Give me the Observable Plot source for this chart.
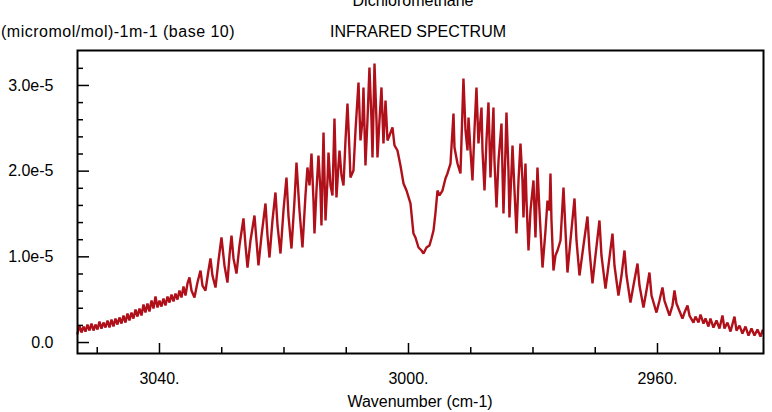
<!DOCTYPE html>
<html>
<head>
<meta charset="utf-8">
<script src="https://cdn.jsdelivr.net/npm/d3@7"></script>
<script src="https://cdn.jsdelivr.net/npm/@observablehq/plot@0.6"></script>
<style>
  html, body { margin: 0; padding: 0; background: #fff; overflow: hidden; }
  #chart { position: relative; width: 772px; height: 412px; overflow: hidden;
           font-family: "Liberation Sans", Arial, sans-serif; color: #000; }
  #chart .t { position: absolute; font-size: 16px; line-height: 16px; white-space: nowrap; }
  #chart svg { position: absolute; left: 0; top: 0; }
</style>
</head>
<body>
<div id="chart"></div>
<script>
// Text
const titleText = "Dichloromethane";
const unitsText = "(micromol/mol)-1m-1 (base 10)";
const subtitleText = "INFRARED SPECTRUM";
const xLabelText = "Wavenumber (cm-1)";

// Axis ticks
const xMajor = [3040, 3000, 2960];
const xMinor = [3050, 3030, 3020, 3010, 2990, 2980, 2970, 2950];
const yMajor = [0, 1, 2, 3];                       // ×1e-5
const yMinor = [0.2, 0.4, 0.6, 0.8, 1.2, 1.4, 1.6, 1.8, 2.2, 2.4, 2.6, 2.8, 3.2];

// Spectrum: wavenumber (cm-1) and absorption coefficient (×1e-5)
const wavenumber = [
  3053.17,3052.85,3052.53,3052.21,3051.89,3051.57,3051.24,3050.92,3050.60,3050.28,
  3049.96,3049.64,3049.32,3049.00,3048.67,3048.35,3048.03,3047.71,3047.39,3047.07,
  3046.75,3046.43,3046.10,3045.78,3045.46,3045.14,3044.82,3044.50,3044.18,3043.85,
  3043.53,3043.21,3042.89,3042.57,3042.25,3041.93,3041.61,3041.28,3040.96,3040.64,
  3040.32,3040.00,3039.68,3039.36,3039.04,3038.71,3038.39,3038.07,3037.75,3037.43,
  3037.11,3036.79,3036.47,3036.14,3035.82,3035.50,3035.18,3034.86,3034.38,3033.90,
  3033.41,3033.09,3032.61,3032.13,3031.81,3031.49,3031.00,3030.52,3030.04,3029.56,
  3029.08,3028.75,3028.43,3028.11,3027.63,3027.15,3026.51,3026.18,3025.86,3025.38,
  3024.74,3024.42,3024.10,3023.61,3022.97,3022.65,3022.33,3021.85,3021.37,3021.04,
  3020.56,3020.08,3019.60,3019.28,3018.80,3018.31,3017.99,3017.51,3017.03,3016.55,
  3016.23,3015.90,3015.58,3015.26,3015.10,3014.78,3014.46,3014.14,3013.98,3013.65,
  3013.33,3013.01,3012.85,3012.53,3012.21,3011.89,3011.57,3011.25,3011.08,3010.76,
  3010.44,3010.12,3009.80,3009.48,3009.32,3008.84,3008.51,3008.03,3007.71,3007.39,
  3007.23,3006.91,3006.59,3006.27,3005.94,3005.78,3005.46,3005.14,3004.98,3004.66,
  3004.34,3004.02,3003.69,3003.37,3003.05,3002.57,3002.25,3001.77,3001.29,3000.80,
  3000.32,2999.68,2999.20,2998.88,2998.39,2997.91,2997.59,2997.11,2996.63,2996.31,
  2995.98,2995.66,2995.34,2995.02,2994.54,2994.06,2993.74,2993.25,2992.77,2992.61,
  2992.13,2991.65,2991.17,2990.84,2990.52,2990.36,2990.04,2989.72,2989.40,2989.08,
  2988.76,2988.27,2988.11,2987.79,2987.47,2987.15,2986.83,2986.35,2986.19,2985.86,
  2985.54,2985.06,2984.90,2984.74,2984.42,2984.26,2983.94,2983.78,2983.45,2983.29,
  2982.97,2982.65,2982.33,2982.01,2981.69,2981.53,2981.21,2981.04,2980.72,2980.40,
  2979.92,2979.76,2979.60,2979.28,2978.96,2978.47,2977.99,2977.67,2977.35,2977.19,
  2977.03,2976.71,2976.39,2976.06,2975.58,2975.10,2974.78,2974.46,2973.98,2973.33,
  2973.01,2972.53,2971.89,2971.25,2970.92,2970.44,2969.96,2969.32,2969.00,2968.35,
  2967.87,2967.23,2966.91,2966.27,2965.78,2965.30,2964.98,2964.34,2963.86,2963.21,
  2962.89,2962.25,2961.77,2961.29,2960.96,2960.16,2959.68,2959.20,2958.88,2958.07,
  2957.59,2957.27,2956.95,2955.99,2955.66,2955.18,2954.86,2954.22,2953.90,2953.41,
  2953.09,2952.61,2952.29,2951.81,2951.49,2951.01,2950.52,2950.04,2949.56,2949.24,
  2948.76,2948.27,2947.63,2947.31,2946.83,2946.35,2945.86,2945.38,2944.90,2944.42,
  2943.94,2943.45,2943.13
];
const absorbance = [
  0.105,0.198,0.117,0.187,0.128,0.210,0.140,0.222,0.140,0.210,
  0.152,0.245,0.163,0.233,0.175,0.257,0.175,0.268,0.187,0.280,
  0.210,0.292,0.222,0.315,0.233,0.339,0.257,0.350,0.280,0.385,
  0.303,0.397,0.315,0.444,0.350,0.455,0.362,0.490,0.397,0.537,
  0.409,0.490,0.420,0.514,0.432,0.537,0.467,0.560,0.479,0.572,
  0.502,0.607,0.525,0.654,0.549,0.689,0.759,0.607,0.525,0.700,
  0.840,0.665,0.607,0.840,0.981,0.782,0.642,0.957,1.226,0.899,
  0.700,1.016,1.249,0.981,0.805,1.132,1.448,1.132,0.875,1.191,
  1.482,1.191,0.899,1.249,1.623,1.249,0.992,1.424,1.751,1.366,
  1.039,1.541,1.926,1.482,1.097,1.658,2.101,1.541,1.109,1.716,
  2.043,1.833,2.206,1.658,1.272,1.774,2.183,1.774,1.366,2.451,
  1.424,1.891,2.218,1.833,1.716,2.615,1.693,2.066,2.241,1.949,
  1.833,2.358,2.790,2.241,1.926,2.008,2.475,3.035,2.358,2.591,
  2.977,2.066,2.591,3.210,2.591,2.160,3.257,2.591,2.160,2.591,
  2.977,2.323,2.825,2.358,2.416,2.510,2.300,2.241,2.066,1.856,
  1.774,1.623,1.272,1.226,1.109,1.074,1.039,1.109,1.132,1.214,
  1.307,1.517,1.774,1.716,1.774,1.914,1.973,2.089,2.673,2.276,
  2.089,1.973,3.082,2.475,2.241,2.626,2.241,1.891,2.475,2.977,
  2.323,2.743,2.241,1.774,2.358,2.802,1.926,2.743,2.124,1.576,
  2.124,2.556,2.008,1.506,2.241,2.685,2.008,1.459,2.008,2.300,
  1.774,1.272,1.891,2.323,1.891,1.459,2.089,1.658,1.074,1.541,
  1.891,1.541,1.226,2.043,1.541,0.875,1.307,1.658,1.541,1.973,
  1.424,0.840,1.016,1.074,1.191,1.809,1.307,0.817,1.191,1.681,
  1.191,0.782,1.132,1.471,1.074,0.689,1.016,1.424,1.016,0.630,
  0.899,1.272,0.899,0.549,0.782,1.074,0.782,0.467,0.665,0.922,
  0.665,0.409,0.607,0.817,0.549,0.350,0.490,0.642,0.490,0.315,
  0.432,0.607,0.455,0.280,0.350,0.432,0.315,0.233,0.303,0.233,
  0.327,0.222,0.280,0.187,0.280,0.175,0.257,0.163,0.315,0.163,
  0.233,0.128,0.303,0.140,0.198,0.105,0.187,0.082,0.163,0.082,
  0.152,0.070,0.140
];

const rows = wavenumber.map((w, i) => ({ w, a: absorbance[i] * 1e-5 }));

const W = 772, H = 412;
const mL = 77, mR = 9, mT = 50, mB = 59;
const plotW = W - mL - mR, plotH = H - mT - mB;
const ink = "#000";
const trace = "#b0101a";
const font = "'Liberation Sans', Arial, sans-serif";

const fmtY = d => d === 0 ? "0.0" : (d * 1e5).toFixed(1) + "e-5";

const svg = Plot.plot({
  width: W, height: H,
  marginLeft: mL, marginRight: mR, marginTop: mT, marginBottom: mB,
  style: { fontFamily: font, fontSize: "16px", color: ink, background: "transparent" },
  x: { domain: [3053.17, 2942.97], axis: null },
  y: { domain: [-0.128e-5, 3.408e-5], axis: null },
  marks: [
    Plot.line(rows, { x: "w", y: "a", stroke: trace, strokeWidth: 2.4, strokeLinejoin: "miter" }),
    // inward ticks along the bottom and left edges
    Plot.tickX(xMinor, { x: d => d, insetTop: plotH - 6, stroke: ink, strokeWidth: 1.5 }),
    Plot.tickX(xMajor, { x: d => d, insetTop: plotH - 10, stroke: ink, strokeWidth: 1.5 }),
    Plot.tickY(yMinor, { y: d => d * 1e-5, insetRight: plotW - 6, stroke: ink, strokeWidth: 1.5 }),
    Plot.tickY(yMajor, { y: d => d * 1e-5, insetRight: plotW - 12, stroke: ink, strokeWidth: 1.5 }),
    Plot.axisX(xMajor, { tickSize: 0, tickPadding: 19, tickFormat: d => d + ".", fontSize: 16, label: null }),
    Plot.axisY(yMajor.map(v => v * 1e-5), { tickSize: 0, tickPadding: 24, tickFormat: fmtY, fontSize: 16, label: null }),
    Plot.frame({ stroke: ink, strokeWidth: 2 })
  ]
});

const chart = document.getElementById("chart");
chart.appendChild(svg);

function addText(text, css) {
  const d = document.createElement("div");
  d.className = "t";
  d.textContent = text;
  Object.assign(d.style, css);
  chart.appendChild(d);
}
addText(titleText, { left: "413px", top: "-7.5px", transform: "translateX(-50%)" });
addText(unitsText, { left: "1px", top: "23.5px", letterSpacing: "0.5px" });
addText(subtitleText, { left: "330px", top: "23.5px" });
addText(xLabelText, { left: "420px", top: "393.5px", transform: "translateX(-50%)" });
</script>
</body>
</html>
